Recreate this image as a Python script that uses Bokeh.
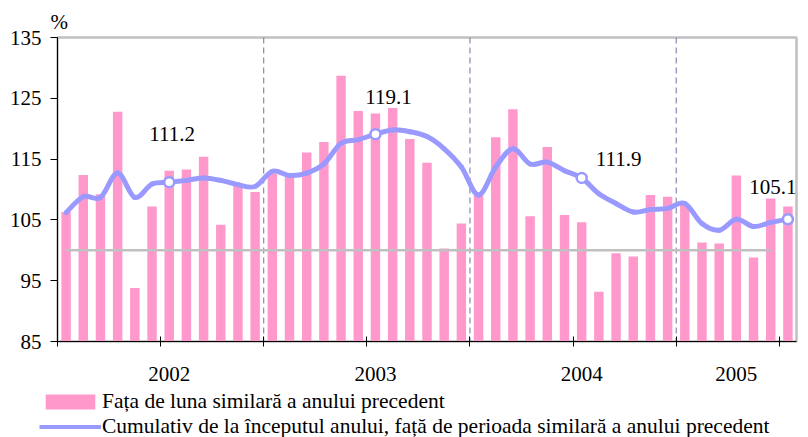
import numpy as np
from bokeh.plotting import figure
from bokeh.layouts import column
from bokeh.models import (ColumnDataSource, FixedTicker, Span, Legend, LegendItem,
                          LabelSet, Range1d)
from bokeh.embed import file_html
from bokeh.resources import INLINE

# ---------------- data ----------------
years = ["2002", "2003", "2004", "2005"]
months_in_year = [12, 12, 12, 7]
y_ticks = [85, 95, 105, 115, 125, 135]
base_level = 100

# Față de luna similară a anului precedent (%)
monthly = [106.3, 112.4, 109.2, 122.8, 93.8, 107.2, 113.1, 113.3, 115.4, 104.2, 110.6, 109.6,
           112.6, 112.2, 116.1, 117.8, 128.7, 122.9, 122.5, 123.4, 118.3, 114.4, 100.3, 104.4,
           109.4, 118.6, 123.2, 105.6, 117.0, 105.8, 104.6, 93.2, 99.5, 99.0, 109.1, 108.8,
           107.6, 101.3, 101.1, 112.3, 98.8, 108.5, 107.2]
# Cumulativ de la începutul anului (%)
cumulative = [106.2, 108.8, 108.7, 112.7, 108.7, 110.9, 111.2, 111.5, 111.9, 111.5, 110.8, 110.5,
              113.0, 112.3, 112.7, 114.2, 117.6, 118.2, 119.1, 119.8, 119.5, 118.7, 116.7, 113.7,
              109.1, 113.7, 116.7, 114.2, 114.5, 113.1, 111.9, 109.3, 107.7, 106.3, 106.7, 106.9,
              107.7, 104.4, 103.3, 105.1, 103.9, 104.6, 105.1]
annotated_month = 7  # July of each year is labelled
series_names = ["Fața de luna similară a anului precedent",
                "Cumulativ de la începutul anului, față de perioada similară a anului precedent"]

# ---------------- styles ----------------
FONT = "Liberation Serif"
FS = "21px"
BAR_COLOR = "#FF99CC"
LINE_COLOR = "#9999FF"
label_dx = [3, 13, 37, -15]
label_dy = [48, 37, 19, 32]

n = len(monthly)
x = np.arange(n)
starts = np.concatenate([[0], np.cumsum(months_in_year)[:-1]])
boundaries = [s - 0.5 for s in starts[1:]]
half_year_ticks = [t - 0.5 for t in range(0, n, 6)]
year_pos = [int(s + m // 2) for s, m in zip(starts, months_in_year)]

src = ColumnDataSource(dict(x=x, monthly=monthly, cumulative=cumulative))

# smoothed cumulative line (Catmull-Rom -> cubic Bezier between the data points)
yc = np.array(cumulative, dtype=float)
xp = np.concatenate([[x[0]], x, [x[-1]]]).astype(float)
yp = np.concatenate([[yc[0]], yc, [yc[-1]]])
bz = dict(x0=[], y0=[], x1=[], y1=[], cx0=[], cy0=[], cx1=[], cy1=[])
for i in range(n - 1):
    j = i + 1
    bz["x0"].append(xp[j]); bz["y0"].append(yp[j])
    bz["x1"].append(xp[j + 1]); bz["y1"].append(yp[j + 1])
    bz["cx0"].append(xp[j] + (xp[j + 1] - xp[j - 1]) / 6)
    bz["cy0"].append(yp[j] + (yp[j + 1] - yp[j - 1]) / 6)
    bz["cx1"].append(xp[j + 1] - (xp[j + 2] - xp[j]) / 6)
    bz["cy1"].append(yp[j + 1] - (yp[j + 2] - yp[j]) / 6)
bz_src = ColumnDataSource(bz)

p = figure(width=808, height=390, output_backend="svg", toolbar_location=None,
           x_range=Range1d(-0.5, n - 0.5), y_range=Range1d(y_ticks[0], y_ticks[-1]),
           min_border_left=57, min_border_right=12, min_border_top=37, min_border_bottom=49)
p.background_fill_color = "white"
p.border_fill_color = "white"
p.outline_line_color = "#C0C0C0"
p.outline_line_width = 2.5
p.xgrid.visible = False
p.ygrid.visible = False

# "%" unit marker above the value axis
p.title.text = "%"
p.title.align = "left"
p.title.offset = -7
p.title.standoff = 7
p.title.text_font = FONT
p.title.text_font_size = FS
p.title.text_font_style = "normal"
p.title.text_color = "black"

# year separators
for b in boundaries:
    p.add_layout(Span(location=b, dimension="height", line_color="#7070A8",
                      line_dash="6 4", line_width=1, level="underlay"))

bars = p.vbar(x="x", top="monthly", bottom=y_ticks[0], width=0.55, source=src,
              fill_color=BAR_COLOR, line_color=None)

# 100 reference line
p.line(x=[x[0], x[-2]], y=[base_level, base_level], line_color="#C0C0C0", line_width=2.5)

curve = p.bezier(x0="x0", y0="y0", x1="x1", y1="y1", cx0="cx0", cy0="cy0", cx1="cx1", cy1="cy1",
                 source=bz_src, line_color=LINE_COLOR, line_width=5, line_cap="round")

# annotated points
idx = [int(s + annotated_month - 1) for s in starts]
asrc = ColumnDataSource(dict(x=[x[i] for i in idx], y=[cumulative[i] for i in idx],
                             txt=[f"{cumulative[i]:.1f}" for i in idx], dx=label_dx, dy=label_dy))
p.scatter(x="x", y="y", source=asrc, size=10, fill_color="white", line_color=LINE_COLOR, line_width=2.5)
p.add_layout(LabelSet(x="x", y="y", text="txt", source=asrc, x_offset="dx", y_offset="dy",
                      text_align="center", text_baseline="middle", text_font=FONT,
                      text_font_size=FS, text_color="black"))

# axes
xa = p.xaxis[0]
xa.ticker = FixedTicker(ticks=year_pos, minor_ticks=half_year_ticks)
xa.major_label_overrides = {int(pos): y for pos, y in zip(year_pos, years)}
xa.major_tick_line_color = None
xa.major_tick_in = 0
xa.major_tick_out = 0
xa.minor_tick_in = 5
xa.minor_tick_out = 5
xa.minor_tick_line_color = "black"
xa.axis_line_color = "black"
xa.major_label_standoff = 20
xa.major_label_text_font = FONT
xa.major_label_text_font_size = FS
xa.major_label_text_color = "black"

ya = p.yaxis[0]
ya.ticker = FixedTicker(ticks=y_ticks, minor_ticks=[])
ya.major_tick_in = 0
ya.major_tick_out = 7
ya.major_tick_line_color = "black"
ya.axis_line_color = "black"
ya.major_label_standoff = 9
ya.major_label_text_font = FONT
ya.major_label_text_font_size = FS
ya.major_label_text_color = "black"

# ---------------- legend strip below the chart ----------------
lg = figure(width=808, height=47, output_backend="svg", toolbar_location=None,
            x_range=Range1d(0, 1), y_range=Range1d(0, 1),
            x_axis_location=None, y_axis_location=None,
            min_border_left=0, min_border_right=0, min_border_top=0, min_border_bottom=0)
lg.outline_line_color = None
lg.xgrid.visible = False
lg.ygrid.visible = False
lg_bars = lg.vbar(x="x", top="monthly", bottom=y_ticks[0], width=0.55, source=src,
                  fill_color=BAR_COLOR, line_color=None, visible=False)
lg_curve = lg.bezier(x0="x0", y0="y0", x1="x1", y1="y1", cx0="cx0", cy0="cy0", cx1="cx1", cy1="cy1",
                     source=bz_src, line_color=LINE_COLOR, line_width=4, visible=False)
legend = Legend(items=[LegendItem(label=series_names[0], renderers=[lg_bars]),
                       LegendItem(label=series_names[1], renderers=[lg_curve])],
                location=(39, -2), orientation="vertical", border_line_color=None,
                background_fill_alpha=0, padding=0, margin=0, spacing=-4, label_standoff=1,
                glyph_width=62, glyph_height=19, label_height=20, label_text_font=FONT,
                label_text_font_size="21.5px", label_text_color="black",
                inactive_fill_alpha=0)
lg.add_layout(legend, "center")

layout = column(p, column(lg, spacing=0), spacing=0)
open("out.html", "w").write(file_html(layout, INLINE))
